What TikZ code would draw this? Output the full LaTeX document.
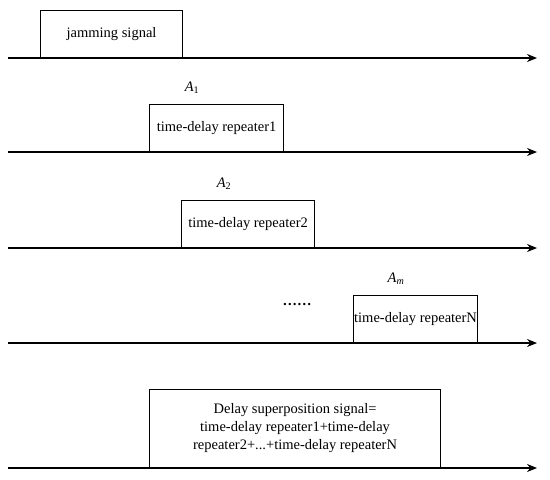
\documentclass[tikz,border=0pt]{standalone}
\usepackage{fontspec}
\setmainfont{Liberation Serif}
\usetikzlibrary{arrows.meta,calc}

\begin{document}
\begin{tikzpicture}[x=1pt,y=-1pt,line width=1.1pt,
                    font=\fontsize{14.5}{18}\selectfont]
\useasboundingbox (0,0) rectangle (550,480);
\tikzstyle{pulse}=[draw, anchor=south west, inner sep=0pt,
                   align=center, minimum height=47pt]
\tikzstyle{mark label}=[inner sep=0pt]
% time axes
\foreach \n/\y in {0/58,1/152,2/248,3/343,4/468}{
	\coordinate (s\n) at (8,\y);
	\coordinate (e\n) at (537,\y);
	\draw[-{Stealth[length=10pt,width=8pt]}] (s\n) -- (e\n);
	}
% pulses on the axes
\node[pulse, minimum width=142pt] (jam) at (40,58) {jamming signal};
\node[pulse, minimum width=134pt] (r1) at (149,152) {time-delay repeater1};
\node[pulse, minimum width=133pt] (r2) at (181,248) {time-delay repeater2};
\node[pulse, minimum width=124pt] (rN) at (353,343) {time-delay repeaterN};
\node[pulse, minimum width=291pt, minimum height=78pt] (sum) at (149,468)
  {Delay superposition signal=\\time-delay repeater1+time-delay\\repeater2+...+time-delay repeaterN};
% amplitudes
\node[mark label] (a1) at ($(r1.north west)+(43,-16)$) {\textit{A}\textsubscript{1}};
\node[mark label] (a2) at ($(r2.north west)+(43,-16)$) {\textit{A}\textsubscript{2}};
\node[mark label] (am) at ($(rN.north west)+(43,-16)$) {\textit{A}\textsubscript{\textit{m}}};
\node[anchor=base] (dots) at (297,305) {\textbf{……}};
\end{tikzpicture}
\end{document}
